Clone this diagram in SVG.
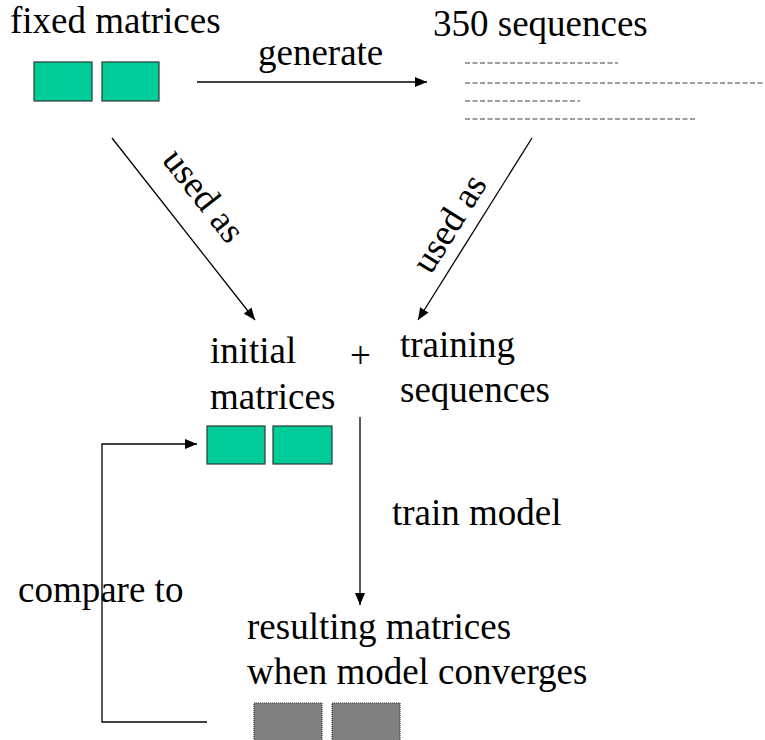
<svg xmlns="http://www.w3.org/2000/svg" width="765" height="740" viewBox="0 0 765 740">
<style>
.g{fill:#00CC99;stroke:#2a3a33;stroke-width:1.2}
.gr{fill:#808080;stroke:#333;stroke-width:1.2;stroke-dasharray:1,1}
.c{stroke:#000;stroke-width:1.3;fill:none}
.d{stroke:#808080;stroke-width:1.3;stroke-dasharray:5,2.5}
.t{font-family:"Liberation Serif","DejaVu Serif",serif;font-size:37px;fill:#000}
</style>
<defs>
<marker id="ah" markerWidth="12" markerHeight="10" refX="12" refY="5" orient="auto" markerUnits="userSpaceOnUse">
<path d="M0,0 L12,5 L0,10 z" fill="#000"/>
</marker>
</defs>
<rect width="765" height="740" fill="#fff"/>
<g class="t">
<g id="fixed">
<text x="10" y="33">fixed matrices</text>
<rect class="g" x="34" y="62" width="58" height="39"/>
<rect class="g" x="102" y="62" width="57" height="39"/>
</g>
<g id="sequences">
<text x="433" y="36">350 sequences</text>
<line class="d" x1="465" y1="63" x2="618" y2="63"/>
<line class="d" x1="465" y1="83" x2="763" y2="83"/>
<line class="d" x1="465" y1="101" x2="580" y2="101"/>
<line class="d" x1="465" y1="119" x2="695" y2="119"/>
</g>
<g id="initial">
<text x="210" y="363">initial</text>
<text x="210" y="409">matrices</text>
<rect class="g" x="207" y="426" width="58" height="38"/>
<rect class="g" x="273" y="426" width="59" height="38"/>
</g>
<g id="plus"><text x="350" y="368">+</text></g>
<g id="training">
<text x="400" y="357">training</text>
<text x="400" y="402">sequences</text>
</g>
<g id="resulting">
<text x="247" y="639">resulting matrices</text>
<text x="247" y="684">when model converges</text>
<rect class="gr" x="254" y="703" width="68" height="40"/>
<rect class="gr" x="332" y="703" width="68" height="40"/>
</g>
<g id="connectors">
<line class="c" x1="197" y1="82" x2="427" y2="82" marker-end="url(#ah)"/>
<text x="258" y="65">generate</text>
<line class="c" x1="112" y1="138" x2="255" y2="320" marker-end="url(#ah)"/>
<text transform="translate(203,196) rotate(52)" x="0" y="11" text-anchor="middle">used as</text>
<line class="c" x1="532" y1="138" x2="418" y2="320" marker-end="url(#ah)"/>
<text transform="translate(450,224) rotate(-58)" x="0" y="11" text-anchor="middle">used as</text>
<line class="c" x1="360" y1="417" x2="360" y2="605" marker-end="url(#ah)"/>
<text x="392" y="525">train model</text>
<polyline class="c" points="207,722 102,722 102,444 197,444" marker-end="url(#ah)"/>
<text x="18" y="602">compare to</text>
</g>
</g>
</svg>
